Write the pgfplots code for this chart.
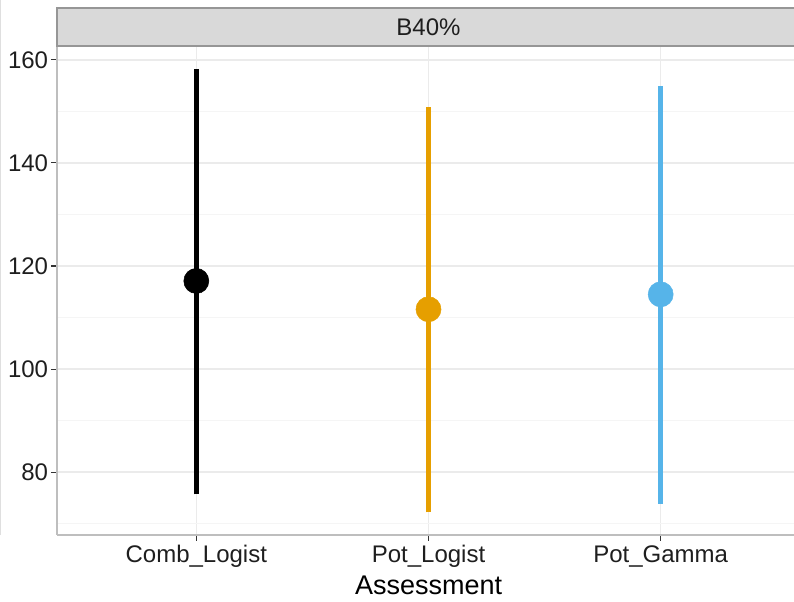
\documentclass[border=0pt]{standalone}
\usepackage{pgfplots}
\pgfplotsset{compat=1.18}
\usepackage{fontspec}
\setmainfont{Liberation Sans}

\definecolor{combcol}{RGB}{0,0,0}
\definecolor{logcol}{RGB}{230,159,0}
\definecolor{gamcol}{RGB}{86,180,233}
\definecolor{panelline}{RGB}{190,190,190}
\definecolor{gridmajor}{RGB}{235,235,235}
\definecolor{gridminor}{RGB}{245,245,245}
\definecolor{stripfill}{RGB}{217,217,217}
\definecolor{stripline}{RGB}{150,150,150}
\definecolor{tickcol}{RGB}{51,51,51}
\definecolor{labelcol}{RGB}{30,30,30}

\begin{document}
\begin{tikzpicture}
\useasboundingbox (0,0) rectangle (595.5pt,451.5pt);
\draw[gray!25, line width=0.8pt] (0.4pt,50pt) -- (0.4pt,451.5pt);
\begin{axis}[
  at={(42.75pt,50.25pt)}, anchor=south west,
  scale only axis, width=557.25pt, height=366.75pt,
  xmin=-0.6, xmax=2.6, ymin=67.8, ymax=162.7,
  axis x line*=bottom, axis y line*=left,
  axis line style={-, draw=panelline, line width=1.1pt},
  xtick={0,1,2},
  xticklabels={Comb\_Logist,Pot\_Logist,Pot\_Gamma},
  ytick={80,100,...,160},
  minor ytick={70,90,...,150},
  grid=both,
  major grid style={gridmajor, line width=1.1pt},
  minor grid style={gridminor, line width=0.7pt},
  tick align=outside, major tick length=4.5pt, minor tick length=0pt,
  tick style={tickcol, line width=0.8pt},
  ticklabel style={font=\fontsize{18}{20}\selectfont, text=labelcol},
  yticklabel style={anchor=east, inner sep=0pt, xshift=-2pt},
  xticklabel style={anchor=north, inner sep=0pt, yshift=-3pt},
  /pgf/number format/assume math mode=true,
  clip=false,
]
% interval segments
\addplot[combcol, line width=4.1pt] coordinates {(0,75.7) (0,158.3)};
\addplot[logcol, line width=4.1pt] coordinates {(1,72.2) (1,150.9)};
\addplot[gamcol, line width=4.1pt] coordinates {(2,73.9) (2,155.0)};
% point estimates
\addplot[only marks, mark=*, mark size=9.4pt, combcol] coordinates {(0,117.1)};
\addplot[only marks, mark=*, mark size=9.4pt, logcol, mark options={fill=logcol}] coordinates {(1,111.6)};
\addplot[only marks, mark=*, mark size=9.4pt, gamcol, mark options={fill=gamcol}] coordinates {(2,114.5)};
% facet strip
\filldraw[fill=stripfill, draw=stripline, line width=1.1pt]
  (rel axis cs:0,1) rectangle ([yshift=28.5pt]rel axis cs:1,1);
\node[font=\fontsize{18}{20}\selectfont, text=labelcol]
  at ([yshift=14.25pt]rel axis cs:0.5,1) {B40\%};
\end{axis}
\node[anchor=base, font=\fontsize{20.25}{22}\selectfont, text=black]
  at (321.4pt,5.25pt) {Assessment};
\end{tikzpicture}
\end{document}
